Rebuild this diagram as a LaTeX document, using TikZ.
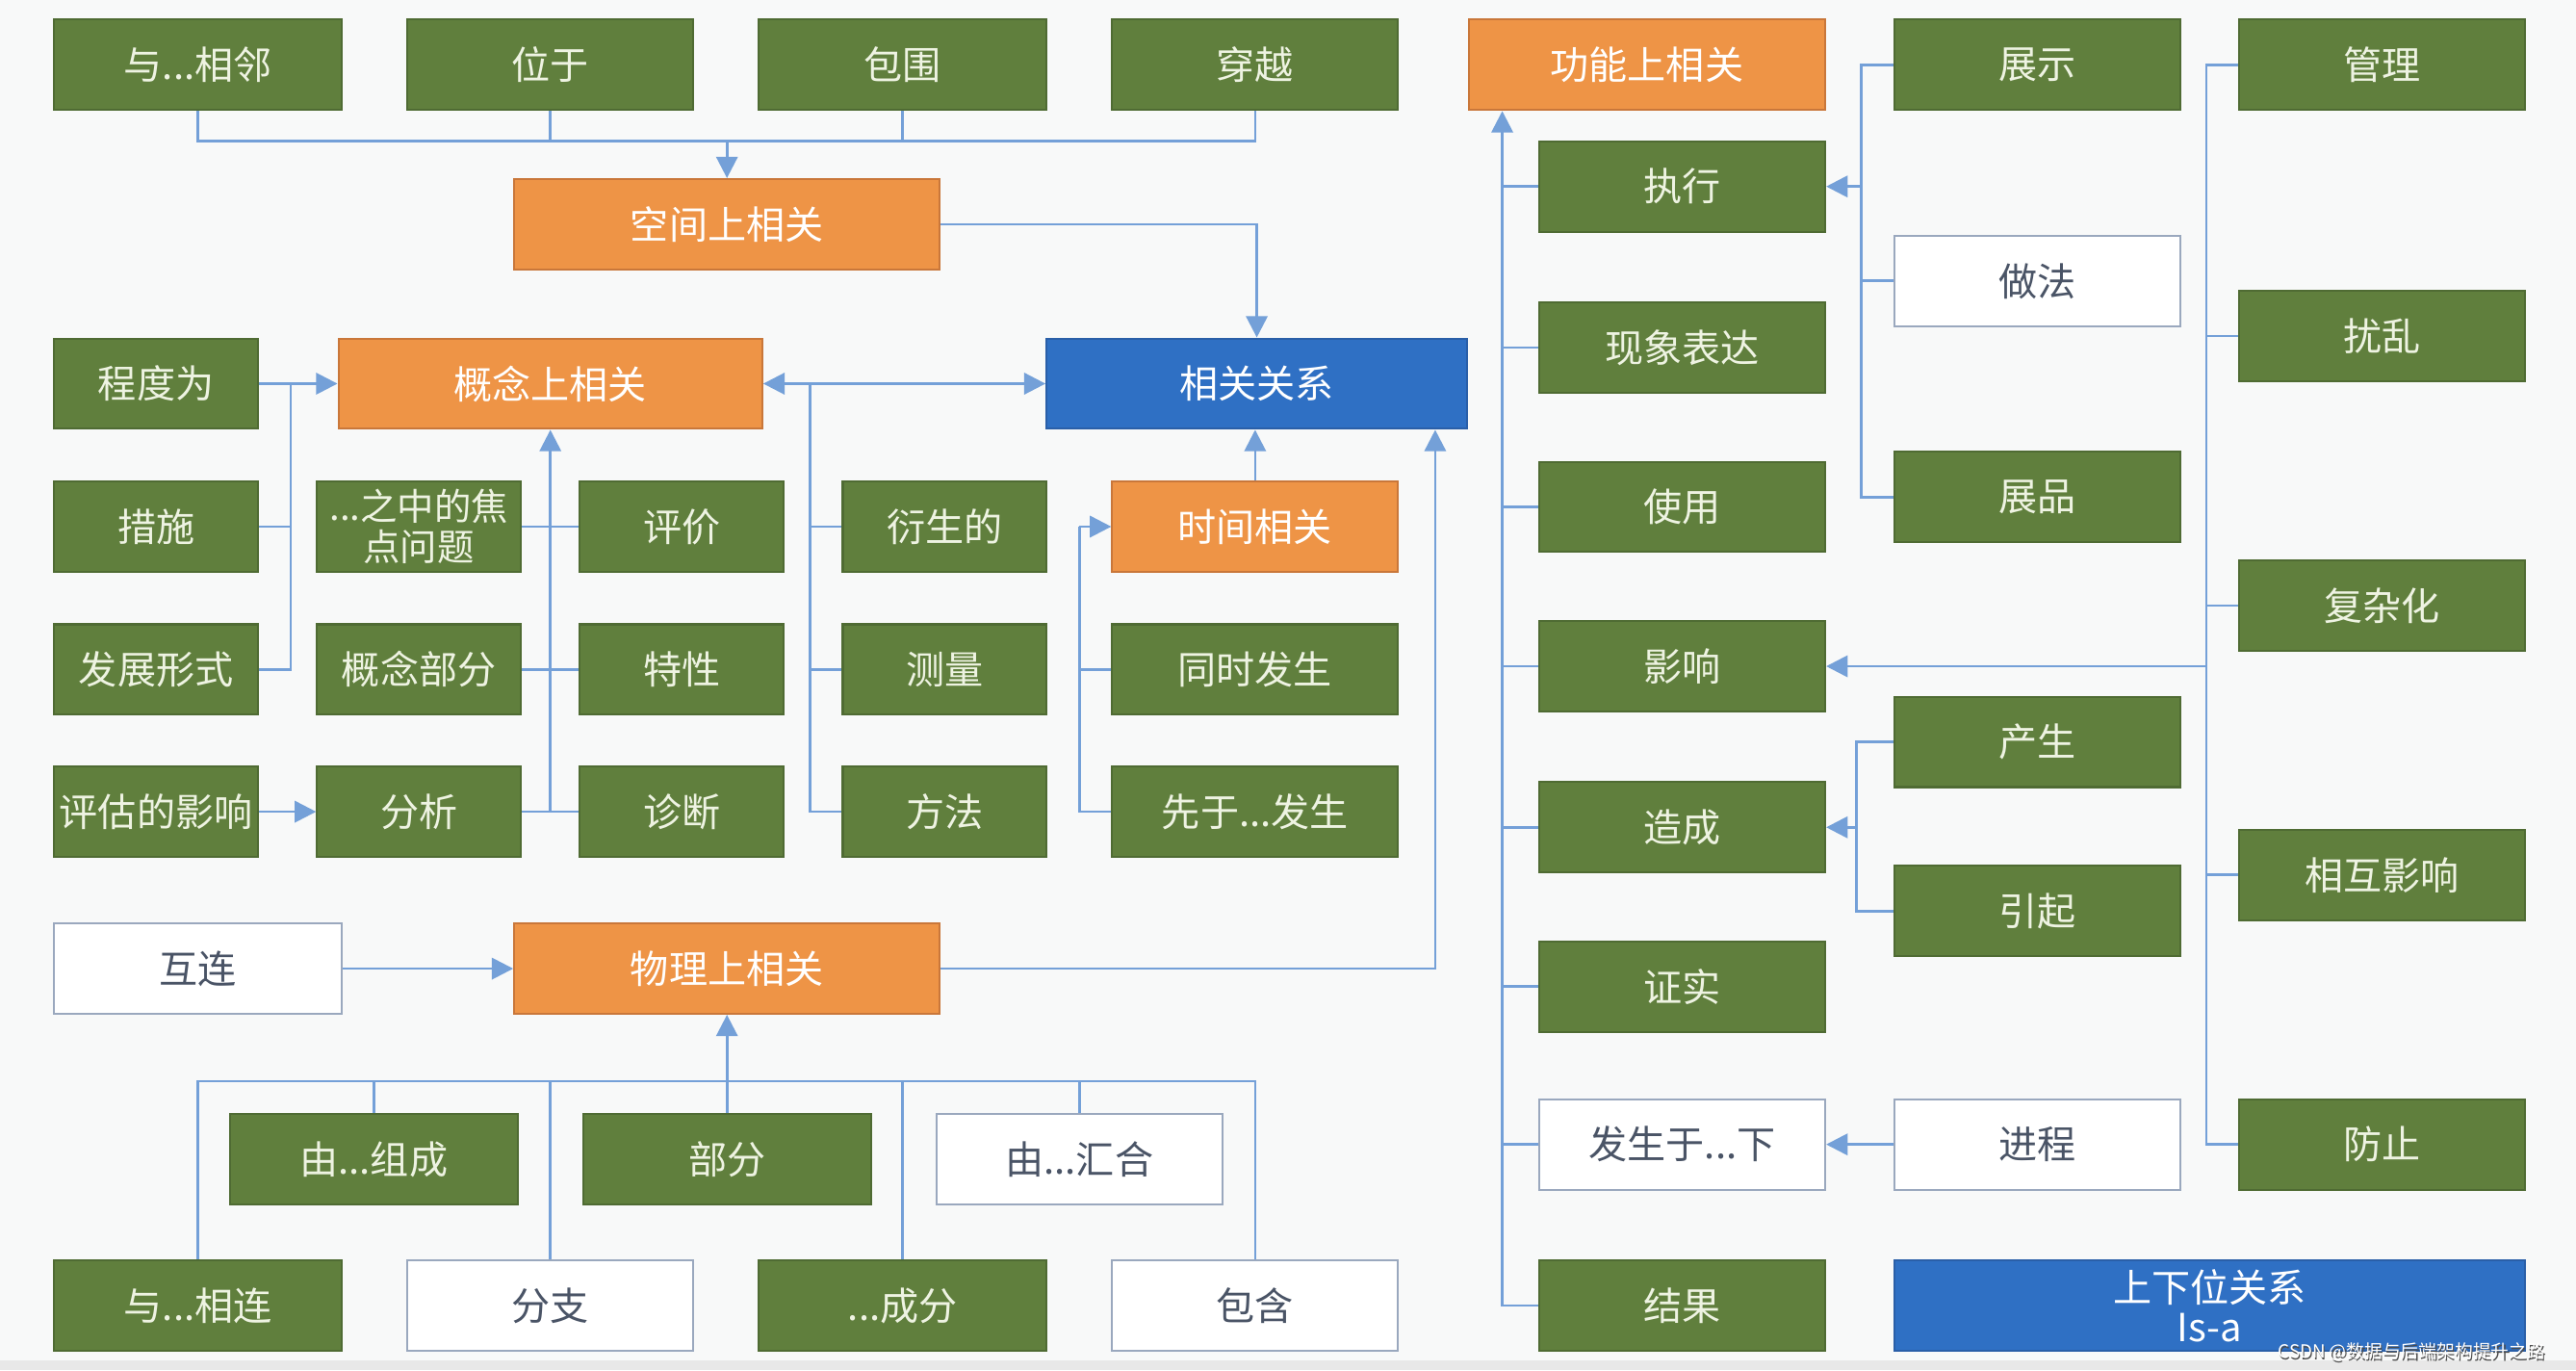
\documentclass[tikz,border=0pt]{standalone}
\usepackage{fontspec}
\newfontfamily\cjk{Noto Sans CJK SC}
\usetikzlibrary{arrows.meta}
\definecolor{bgc}{HTML}{F8F9F9}
\definecolor{grn}{HTML}{607F3D}
\definecolor{grnd}{HTML}{4F6B33}
\definecolor{grt}{HTML}{EEF3E2}
\definecolor{org}{HTML}{EE9446}
\definecolor{orgd}{HTML}{C9773A}
\definecolor{blu}{HTML}{2F70C4}
\definecolor{blud}{HTML}{2A5FA8}
\definecolor{wbd}{HTML}{9AA8BE}
\definecolor{wtx}{HTML}{4A5466}
\definecolor{lnc}{HTML}{74A0D8}
\tikzset{
  box/.style={rectangle, inner sep=2pt, align=center, font=\cjk\fontsize{23.5}{28}\selectfont, line width=1.2pt, minimum height=55pt},
  gbox/.style={box, fill=grn, draw=grnd, text=grt},
  obox/.style={box, fill=org, draw=orgd, text=white},
  bbox/.style={box, fill=blu, draw=blud, text=white},
  wbox/.style={box, fill=white, draw=wbd, text=wtx},
  ln/.style={draw=lnc, line width=1.6pt},
  arr/.style={ln, -{Triangle[length=13pt,width=13pt]}},
  arrb/.style={ln, {Triangle[length=13pt,width=13pt]}-{Triangle[length=13pt,width=13pt]}}
}
\begin{document}
\begin{tikzpicture}[x=1pt,y=-1pt]
\fill[bgc] (0,0) rectangle (1568,834);
\useasboundingbox (0,0) rectangle (1568,834);
\fill[gray!18] (0,828) rectangle (1568,834);

% top row
\node[gbox, minimum width=175pt] (n1) at (120.5,39.5) {与...相邻};
\node[gbox, minimum width=174pt] (n2) at (335,39.5) {位于};
\node[gbox, minimum width=175pt] (n3) at (549.5,39.5) {包围};
\node[gbox, minimum width=174pt] (n4) at (764,39.5) {穿越};
\node[obox, minimum width=217pt] (gf) at (1002.5,39.5) {功能上相关};

\node[obox, minimum width=259pt] (kj) at (442.5,136.5) {空间上相关};
\node[bbox, minimum width=256pt] (xg) at (765,233.5) {相关关系};

% concept block
\node[gbox, minimum width=124pt] (cd) at (95,233.5) {程度为};
\node[obox, minimum width=258pt] (gn) at (335,233.5) {概念上相关};

\node[gbox, minimum width=124pt] (a1) at (95,320.5) {措施};
\node[gbox, minimum width=124pt] (a2) at (95,407.5) {发展形式};
\node[gbox, minimum width=124pt] (a3) at (95,494) {评估的影响};
\node[gbox, minimum width=124pt, font=\cjk\fontsize{22.5}{25}\selectfont] (b1) at (255,320.5) {...之中的焦\\点问题};
\node[gbox, minimum width=124pt] (b2) at (255,407.5) {概念部分};
\node[gbox, minimum width=124pt] (b3) at (255,494) {分析};
\node[gbox, minimum width=124pt] (c1) at (415,320.5) {评价};
\node[gbox, minimum width=124pt] (c2) at (415,407.5) {特性};
\node[gbox, minimum width=124pt] (c3) at (415,494) {诊断};
\node[gbox, minimum width=124pt] (d1) at (575,320.5) {衍生的};
\node[gbox, minimum width=124pt] (d2) at (575,407.5) {测量};
\node[gbox, minimum width=124pt] (d3) at (575,494) {方法};

\node[obox, minimum width=174pt] (sj) at (764,320.5) {时间相关};
\node[gbox, minimum width=174pt] (t2) at (764,407.5) {同时发生};
\node[gbox, minimum width=174pt] (t3) at (764,494) {先于...发生};

% physical block
\node[wbox, minimum width=175pt] (hl) at (120.5,589.5) {互连};
\node[obox, minimum width=259pt] (wl) at (442.5,589.5) {物理上相关};
\node[gbox, minimum width=175pt] (m1) at (227.5,705.5) {由...组成};
\node[gbox, minimum width=175pt] (m2) at (442.5,705.5) {部分};
\node[wbox, minimum width=174pt] (m3) at (657,705.5) {由...汇合};
\node[gbox, minimum width=175pt] (p1) at (120.5,794.5) {与...相连};
\node[wbox, minimum width=174pt] (p2) at (335,794.5) {分支};
\node[gbox, minimum width=175pt] (p3) at (549.5,794.5) {...成分};
\node[wbox, minimum width=174pt] (p4) at (764,794.5) {包含};

% right: column A
\node[gbox, minimum width=174pt] (r1) at (1024,113.5) {执行};
\node[gbox, minimum width=174pt] (r2) at (1024,211.5) {现象表达};
\node[gbox, minimum width=174pt] (r3) at (1024,308.5) {使用};
\node[gbox, minimum width=174pt] (r4) at (1024,405.5) {影响};
\node[gbox, minimum width=174pt] (r5) at (1024,503.5) {造成};
\node[gbox, minimum width=174pt] (r6) at (1024,600.5) {证实};
\node[wbox, minimum width=174pt] (r7) at (1024,696.5) {发生于...下};
\node[gbox, minimum width=174pt] (r8) at (1024,794.5) {结果};
% column B
\node[gbox, minimum width=174pt] (s1) at (1240,39.5) {展示};
\node[wbox, minimum width=174pt] (s2) at (1240,171) {做法};
\node[gbox, minimum width=174pt] (s3) at (1240,302.5) {展品};
\node[gbox, minimum width=174pt] (s4) at (1240,451.5) {产生};
\node[gbox, minimum width=174pt] (s5) at (1240,554.5) {引起};
\node[wbox, minimum width=174pt] (s6) at (1240,696.5) {进程};
\node[bbox, minimum width=384pt, font=\cjk\fontsize{23.5}{24}\selectfont] (sx) at (1345,794.5) {上下位关系\\Is-a};
% column C
\node[gbox, minimum width=174pt] (u1) at (1450,39.5) {管理};
\node[gbox, minimum width=174pt] (u2) at (1450,204.5) {扰乱};
\node[gbox, minimum width=174pt] (u3) at (1450,368.5) {复杂化};
\node[gbox, minimum width=174pt] (u4) at (1450,532.5) {相互影响};
\node[gbox, minimum width=174pt] (u5) at (1450,696.5) {防止};

% ---------- connectors ----------
\coordinate (topbus) at (442.5,86);
\draw[ln] (n1.south) -- (n1.south |- topbus) -- (n4.south |- topbus) -- (n4.south);
\draw[ln] (n2.south) -- (n2.south |- topbus);
\draw[ln] (n3.south) -- (n3.south |- topbus);
\draw[arr] (topbus) -- (kj.north);
\draw[arr] (kj.east) -| (xg.north);

\draw[arrb] (gn.east) -- (xg.west);
\coordinate (rbus) at (493,233.5);
\draw[ln] (rbus) |- (d3.west);
\draw[ln] (d1.west) -- (d1.west -| rbus);
\draw[ln] (d2.west) -- (d2.west -| rbus);

\draw[arr] (cd.east) -- (gn.west);
\coordinate (lbus) at (177,233.5);
\draw[ln] (a2.east) -| (lbus);
\draw[ln] (a1.east) -- (a1.east -| lbus);

\draw[arr] (b3.east -| gn.south) -- (gn.south);
\draw[ln] (b1.east) -- (c1.west);
\draw[ln] (b2.east) -- (c2.west);
\draw[ln] (b3.east) -- (c3.west);
\draw[arr] (a3.east) -- (b3.west);

\coordinate (tbus) at (657,320.5);
\draw[arr] (tbus) -- (sj.west);
\draw[ln] (tbus) |- (t3.west);
\draw[ln] (t2.west) -- (t2.west -| tbus);
\draw[arr] (sj.north) -- (sj.north |- xg.south);

\coordinate (xgin) at ([xshift=-20pt]xg.south east);
\draw[arr] (wl.east) -| (xgin);
\draw[arr] (hl.east) -- (wl.west);

\coordinate (bbus) at (442.5,658);
\draw[ln] (p1.north) -- (p1.north |- bbus) -- (p4.north |- bbus) -- (p4.north);
\draw[ln] (m1.north) -- (m1.north |- bbus);
\draw[ln] (p2.north) -- (p2.north |- bbus);
\draw[ln] (p3.north) -- (p3.north |- bbus);
\draw[ln] (m3.north) -- (m3.north |- bbus);
\draw[arr] (m2.north) -- (wl.south);

\coordinate (fin) at ([xshift=21pt]gf.south west);
\draw[arr] (r8.west) -| (fin);
\foreach \k in {r1,r2,r3,r4,r5,r6,r7} {\draw[ln] (\k.west) -- (\k.west -| fin);}

\coordinate (zb) at (1133,113.5);
\draw[arr] (zb) -- (r1.east);
\draw[ln] (s1.west) -| (zb);
\draw[ln] (s3.west) -| (zb);
\draw[ln] (s2.west) -- (s2.west -| zb);

\coordinate (yb) at (1343,405.5);
\draw[arr] (yb) -- (r4.east);
\draw[ln] (u1.west) -| (yb);
\draw[ln] (u5.west) -| (yb);
\foreach \k in {u2,u3,u4} {\draw[ln] (\k.west) -- (\k.west -| yb);}

\coordinate (cb) at (1130,503.5);
\draw[arr] (cb) -- (r5.east);
\draw[ln] (s4.west) -| (cb);
\draw[ln] (s5.west) -| (cb);

\draw[arr] (s6.west) -- (r7.east);

% watermark
\node[text=black!70, font=\cjk\fontsize{11}{12}\selectfont, inner sep=0pt] (wm0) at (1468.8,823.8) {CSDN @数据与后端架构提升之路};
\node[text=white, font=\cjk\fontsize{11}{12}\selectfont, inner sep=0pt] (wm) at (1468,823) {CSDN @数据与后端架构提升之路};
\end{tikzpicture}
\end{document}
